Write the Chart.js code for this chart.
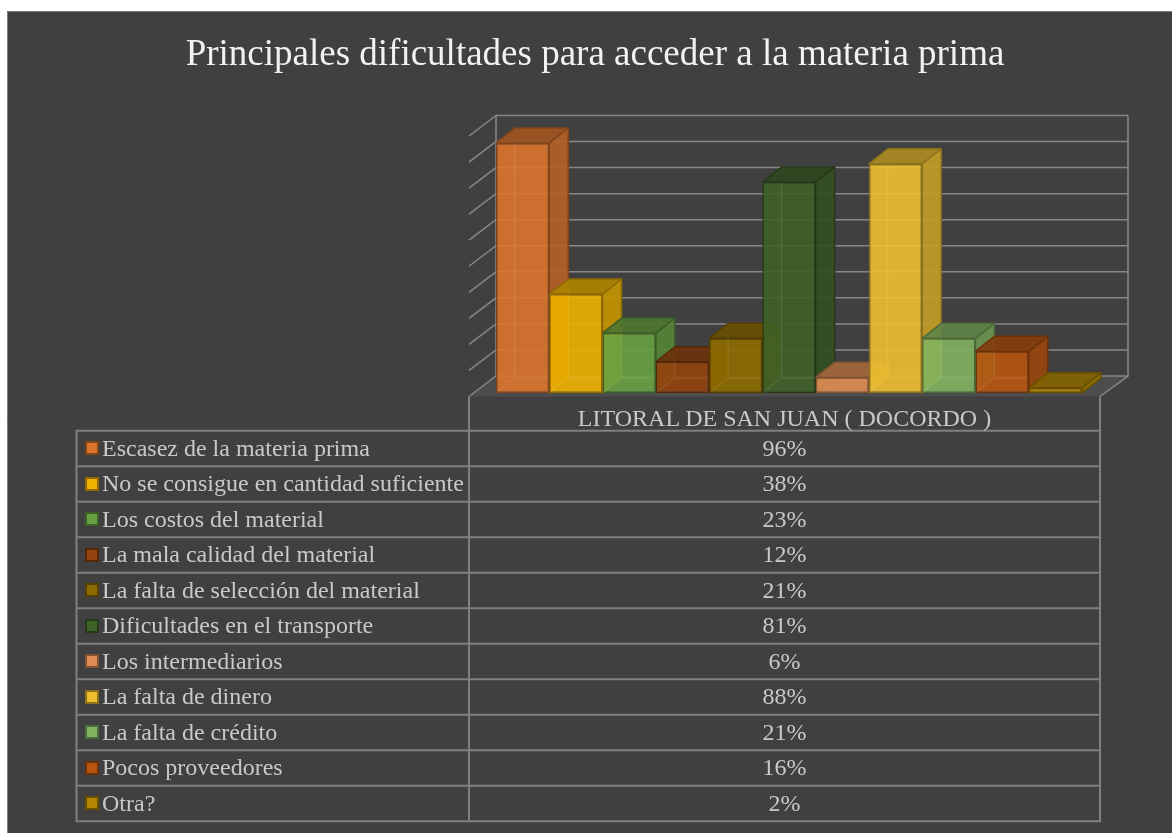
<!DOCTYPE html>
<html>
<head>
<meta charset="utf-8">
<script src="https://cdn.jsdelivr.net/npm/chart.js@4.4.1/dist/chart.umd.min.js"></script>
<style>
  html, body { margin: 0; padding: 0; background: #ffffff; }
  #wrap { position: relative; width: 1172px; height: 833px; overflow: hidden; }
  #chart { position: absolute; left: 0; top: 0; }
  .txt {
    position: absolute;
    font-family: 'Liberation Serif', 'Times New Roman', serif;
    font-size: 24px;
    line-height: 28px;
    height: 28px;
    color: #c9c9c9;
    white-space: nowrap;
  }
  .title { font-size: 37px; line-height: 44px; height: 44px; color: #f2f2f2; text-align: center; }
  .key { position: absolute; width: 14px; height: 14px; box-sizing: border-box; border: 2px solid; }
</style>
</head>
<body>
<div id="wrap">
  <canvas id="chart" width="1172" height="833"></canvas>
</div>
<script>
const chartTitle = 'Principales dificultades para acceder a la materia prima'
const categoryLabel = 'LITORAL DE SAN JUAN ( DOCORDO )'
const seriesNames = [
  'Escasez de la materia prima',
  'No se consigue en cantidad suficiente',
  'Los costos del material',
  'La mala calidad del material',
  'La falta de selección del material',
  'Dificultades en el transporte',
  'Los intermediarios',
  'La falta de dinero',
  'La falta de crédito',
  'Pocos proveedores',
  'Otra?'
]
const seriesValues = [0.96, 0.38, 0.23, 0.12, 0.21, 0.81, 0.06, 0.88, 0.21, 0.16, 0.02]
const seriesColors = ['#ED7D31', '#FFC000', '#70AD47', '#9E480E', '#997300', '#43682B',
  '#F1975A', '#FFCD33', '#8CC168', '#C55A11', '#BF9000']

// layout of the 3d box and the data table
const barDepth = { dx: 19, dy: 15 }
const backWallRise = 17
const tableTop = 430.7
const rowHeight = 35.5
const tableLeft = 76.5
const lineGrey = '#7f7f7f'

function toRgb(hex) {
  const n = parseInt(hex.slice(1), 16)
  return [(n >> 16) & 255, (n >> 8) & 255, n & 255]
}
function shade(hex, f, a) {
  const c = toRgb(hex).map(v => Math.round(v * f))
  return 'rgba(' + c.join(',') + ',' + (a === undefined ? 1 : a) + ')'
}
function pct(v) {
  return Math.round(v * 100) + '%'
}

function poly(c, pts) {
  c.beginPath()
  c.moveTo(pts[0][0], pts[0][1])
  for (let i = 1; i < pts.length; i++) c.lineTo(pts[i][0], pts[i][1])
  c.closePath()
}

const panel3d = {
  id: 'panel3d',
  beforeDraw(chart) {
    const c = chart.ctx
    c.save()
    c.fillStyle = '#ffffff'
    c.fillRect(0, 0, chart.width, chart.height)
    c.fillStyle = '#404040'
    c.fillRect(7, 11, chart.width - 7, chart.height - 11)
    c.strokeStyle = '#7a7a7a'
    c.lineWidth = 1
    c.beginPath()
    c.moveTo(7.5, chart.height)
    c.lineTo(7.5, 11.5)
    c.lineTo(chart.width, 11.5)
    c.stroke()
    c.restore()
  },
  beforeDatasetsDraw(chart) {
    const c = chart.ctx
    const ca = chart.chartArea
    const y = chart.scales.y
    const leftFront = ca.left, leftBack = ca.left + 27
    const rightFront = ca.right - 9, rightBack = rightFront + 28
    const floorY = y.getPixelForValue(0) + 3.5
    const backY = v => y.getPixelForValue(v) - backWallRise
    let ticks = y.ticks.map(t => t.value)
    if (!ticks.length) ticks = [0, 0.1, 0.2, 0.3, 0.4, 0.5, 0.6, 0.7, 0.8, 0.9, 1]

    c.save()
    // floor
    c.fillStyle = '#4d4d4d'
    poly(c, [[leftFront, floorY], [leftBack, backY(0)], [rightBack, backY(0)], [rightFront, floorY]])
    c.fill()

    c.strokeStyle = '#878787'
    c.lineWidth = 1.5
    ticks.forEach(v => {
      const by = backY(v)
      c.beginPath()
      c.moveTo(leftFront, by + (floorY - backY(0)))
      c.lineTo(leftBack, by)
      c.lineTo(rightBack, by)
      c.stroke()
    })
    c.beginPath()
    c.moveTo(leftBack, backY(1))
    c.lineTo(leftBack, backY(0))
    c.stroke()
    c.beginPath()
    c.moveTo(rightBack, backY(1))
    c.lineTo(rightBack, backY(0))
    c.lineTo(rightFront, floorY)
    c.stroke()

    // side and top faces, left to right
    c.lineWidth = 1.5
    c.lineJoin = 'round'
    chart.data.datasets.forEach((ds, i) => {
      const bar = chart.getDatasetMeta(i).data[0]
      if (!bar) return
      const col = seriesColors[i]
      const l = bar.x - bar.width / 2, r = bar.x + bar.width / 2
      const t = bar.y, b = bar.base
      const { dx, dy } = barDepth
      c.strokeStyle = shade(col, 0.55)
      c.fillStyle = shade(col, 0.76, 0.92)
      poly(c, [[r, t], [r + dx, t - dy], [r + dx, b - dy], [r, b]])
      c.fill(); c.stroke()
      c.fillStyle = shade(col, 0.68, 0.92)
      poly(c, [[l, t], [l + dx, t - dy], [r + dx, t - dy], [r, t]])
      c.fill(); c.stroke()
    })
    c.restore()
  },
  afterDatasetsDraw(chart) {
    // faint hidden edges seen through the front faces
    const c = chart.ctx
    c.save()
    c.strokeStyle = 'rgba(255,255,255,0.13)'
    c.lineWidth = 1
    chart.data.datasets.forEach((ds, i) => {
      const bar = chart.getDatasetMeta(i).data[0]
      if (!bar) return
      const l = bar.x - bar.width / 2, r = bar.x + bar.width / 2
      const t = bar.y, b = bar.base
      const { dx, dy } = barDepth
      if (b - t < dy + 2) return
      c.beginPath()
      c.moveTo(l + dx, t)
      c.lineTo(l + dx, b - dy)
      c.lineTo(r - 1, b - dy)
      c.moveTo(l + 1, b - 1)
      c.lineTo(l + dx, b - dy)
      c.stroke()
    })
    c.restore()
  },
  afterDraw(chart) {
    // data table grid
    const c = chart.ctx
    const ca = chart.chartArea
    const colSplit = ca.left
    const colRight = ca.right - 9
    const floorY = chart.scales.y.getPixelForValue(0) + 3.5
    const bottom = tableTop + seriesNames.length * rowHeight
    c.save()
    c.strokeStyle = lineGrey
    c.lineWidth = 2
    c.beginPath()
    c.moveTo(colSplit, floorY); c.lineTo(colSplit, bottom)
    c.moveTo(colRight, floorY); c.lineTo(colRight, bottom)
    c.moveTo(tableLeft, tableTop); c.lineTo(tableLeft, bottom)
    for (let i = 0; i <= seriesNames.length; i++) {
      const yy = tableTop + i * rowHeight
      c.moveTo(tableLeft - 1, yy); c.lineTo(colRight + 1, yy)
    }
    c.stroke()
    c.restore()
  }
}

const ctx = document.getElementById('chart').getContext('2d')
const chart = new Chart(ctx, {
  type: 'bar',
  data: {
    labels: [categoryLabel],
    datasets: seriesNames.map((name, i) => ({
      label: name,
      data: [seriesValues[i]],
      backgroundColor: shade(seriesColors[i], 0.93, 0.9),
      borderColor: shade(seriesColors[i], 0.55),
      borderWidth: 1.5,
      borderSkipped: false,
      categoryPercentage: 0.9156,
      barPercentage: 1
    }))
  },
  options: {
    responsive: false,
    animation: false,
    layout: {
      padding: { left: 469, right: 63, top: 132.5, bottom: 440 }
    },
    scales: {
      x: { display: false },
      y: { display: false, min: 0, max: 1, ticks: { stepSize: 0.1 } }
    },
    plugins: {
      legend: { display: false },
      tooltip: { enabled: false },
      title: { display: false }
    }
  },
  plugins: [panel3d]
})

// texts: title and data table
const wrap = document.getElementById('wrap')
function addText(text, cls, style) {
  const d = document.createElement('div')
  d.className = cls
  d.textContent = text
  Object.assign(d.style, style)
  wrap.appendChild(d)
  return d
}

addText(chartTitle, 'txt title', { left: '0px', width: '1190px', top: '30.5px' })

const ca = chart.chartArea
const valueLeft = ca.left
const valueWidth = ca.right - 9 - ca.left
addText(categoryLabel, 'txt', { left: valueLeft + 'px', width: valueWidth + 'px', textAlign: 'center', top: '403.9px' })

seriesNames.forEach((name, i) => {
  const mid = tableTop + i * rowHeight + rowHeight / 2
  const key = document.createElement('div')
  key.className = 'key'
  Object.assign(key.style, {
    left: '85px',
    top: (mid - 7) + 'px',
    background: shade(seriesColors[i], 0.93),
    borderColor: shade(seriesColors[i], 0.55)
  })
  wrap.appendChild(key)
  addText(name, 'txt', { left: '102px', top: (mid - 14.5) + 'px' })
  addText(pct(seriesValues[i]), 'txt', { left: valueLeft + 'px', width: valueWidth + 'px', textAlign: 'center', top: (mid - 14.5) + 'px' })
})
</script>
</body>
</html>
